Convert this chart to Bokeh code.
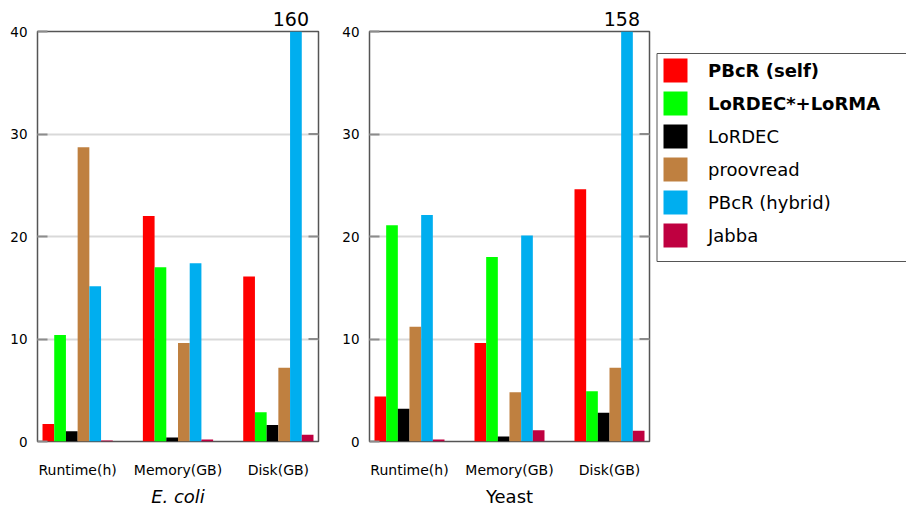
from bokeh.plotting import figure
from bokeh.models import (ColumnDataSource, FixedTicker, Range1d,
                          Legend, LegendItem, Title)
from bokeh.layouts import row
from bokeh.embed import file_html
from bokeh.resources import INLINE

# ---------------- data ----------------
metrics = ["Runtime(h)", "Memory(GB)", "Disk(GB)"]
series = ["PBcR (self)", "LoRDEC*+LoRMA", "LoRDEC", "proovread", "PBcR (hybrid)", "Jabba"]
bold_series = ["PBcR (self)", "LoRDEC*+LoRMA"]
colors = ["#ff0000", "#00ff00", "#000000", "#bf8040", "#00aeef", "#bf0040"]

ecoli_pbcr_self = [1.7, 22.0, 16.1]
ecoli_lordec_lorma = [10.4, 17.0, 2.85]
ecoli_lordec = [1.0, 0.4, 1.6]
ecoli_proovread = [28.7, 9.6, 7.2]
ecoli_pbcr_hybrid = [15.15, 17.4, 160]
ecoli_jabba = [0.1, 0.2, 0.65]

yeast_pbcr_self = [4.4, 9.6, 24.6]
yeast_lordec_lorma = [21.1, 18.0, 4.9]
yeast_lordec = [3.2, 0.5, 2.8]
yeast_proovread = [11.2, 4.8, 7.2]
yeast_pbcr_hybrid = [22.1, 20.1, 158]
yeast_jabba = [0.2, 1.1, 1.05]

y_ticks = [0, 10, 20, 30, 40]
y_max = 40

# ---------------- styling ----------------
FONT = "DejaVu Sans"
GROUP_W = 0.7
X_START, X_END = -0.4, 2.4
FRAME_W, FRAME_H = 281, 410
TOP, BOTTOM = 31, 68
H = TOP + FRAME_H + BOTTOM
TICK_LEN = 10
TICK_COLOR = "#8c8c8c"
FRAME_COLOR = "#555555"
VAL_FONT_PX = 19


def make_panel(title, italic, values_list, border_left, border_right):
    p = figure(width=border_left + FRAME_W + border_right, height=H,
               x_range=Range1d(X_START, X_END), y_range=Range1d(0, y_max),
               output_backend="svg", toolbar_location=None, title_location=None,
               min_border_left=border_left, min_border_right=border_right,
               min_border_top=TOP, min_border_bottom=BOTTOM)
    ppu = FRAME_W / (X_END - X_START)
    w = GROUP_W / len(series)
    for i, (vals, c) in enumerate(zip(values_list, colors)):
        xs = [k + (i - (len(series) - 1) / 2) * w for k in range(len(metrics))]
        src = ColumnDataSource(dict(x=xs, top=vals))
        p.vbar(x="x", top="top", bottom=0, width=w, source=src,
               fill_color=c, line_color=None)
        for k, v in enumerate(vals):
            if v > y_max:
                txt = f"{v:g}"
                half = 0.5 * len(txt) * 0.636 * VAL_FONT_PX
                off = (X_END - xs[k]) * ppu - half + 5
                p.add_layout(Title(text=txt, align="right", offset=off, standoff=12,
                                   vertical_align="bottom", text_font=FONT,
                                   text_font_size=f"{VAL_FONT_PX}px",
                                   text_font_style="normal", text_color="black"),
                             "above")

    # inner ticks on the right-hand frame edge
    inner = y_ticks[1:-1]
    tl = TICK_LEN / ppu
    p.segment(x0=[X_END] * len(inner), x1=[X_END - tl] * len(inner),
              y0=inner, y1=inner, line_color=TICK_COLOR, line_width=2)

    p.outline_line_color = FRAME_COLOR
    p.outline_line_width = 1.5
    p.background_fill_color = "white"
    p.border_fill_color = "white"

    xa = p.xaxis[0]
    xa.ticker = FixedTicker(ticks=list(range(len(metrics))))
    xa.major_label_overrides = {i: m for i, m in enumerate(metrics)}
    xa.major_tick_line_color = None
    xa.major_tick_in = 0
    xa.major_tick_out = 0
    xa.minor_tick_line_color = None
    xa.axis_line_color = None
    xa.major_label_standoff = 20
    xa.major_label_text_font = FONT
    xa.major_label_text_font_size = "14px"
    xa.major_label_text_color = "black"
    xa.axis_label = title
    xa.axis_label_text_font = FONT
    xa.axis_label_text_font_size = "18px"
    xa.axis_label_text_font_style = "italic" if italic else "normal"
    xa.axis_label_text_color = "black"
    xa.axis_label_standoff = 5

    ya = p.yaxis[0]
    ya.ticker = FixedTicker(ticks=y_ticks)
    ya.major_tick_in = TICK_LEN
    ya.major_tick_out = 0
    ya.major_tick_line_color = TICK_COLOR
    ya.major_tick_line_width = 2
    ya.minor_tick_line_color = None
    ya.axis_line_color = None
    ya.major_label_standoff = 10
    ya.major_label_text_font = FONT
    ya.major_label_text_font_size = "13.5px"
    ya.major_label_text_color = "black"

    p.xgrid.visible = False
    p.ygrid.ticker = FixedTicker(ticks=y_ticks)
    p.ygrid.grid_line_color = "#d9d9d9"
    p.ygrid.grid_line_width = 2
    return p


p1 = make_panel("E. coli", True,
                [ecoli_pbcr_self, ecoli_lordec_lorma, ecoli_lordec,
                 ecoli_proovread, ecoli_pbcr_hybrid, ecoli_jabba], 37, 21)
p2 = make_panel("Yeast", False,
                [yeast_pbcr_self, yeast_lordec_lorma, yeast_lordec,
                 yeast_proovread, yeast_pbcr_hybrid, yeast_jabba], 29, 6)

# ---------------- legend panel ----------------
W3 = 906 - p1.width - p2.width
p3 = figure(width=W3, height=H,
            x_range=Range1d(0, W3), y_range=Range1d(0, FRAME_H),
            output_backend="svg", toolbar_location=None, title_location=None,
            x_axis_location=None, y_axis_location=None,
            min_border_left=0, min_border_right=0,
            min_border_top=TOP, min_border_bottom=BOTTOM)
p3.grid.visible = False
p3.outline_line_color = None
p3.background_fill_color = "white"
p3.border_fill_color = "white"

# legend box (page px 53..261, counted here from the frame bottom); its right side
# lies beyond the window, so only three sides are drawn
LEG_BOX_TOP = TOP + FRAME_H - 53
LEG_BOX_BOTTOM = TOP + FRAME_H - 261
p3.line(x=[W3 + 5, 1.5, 1.5, W3 + 5],
        y=[LEG_BOX_TOP, LEG_BOX_TOP, LEG_BOX_BOTTOM, LEG_BOX_BOTTOM],
        line_color="#555555", line_width=1)

rends = []
for vals, c in zip([ecoli_pbcr_self, ecoli_lordec_lorma, ecoli_lordec,
                    ecoli_proovread, ecoli_pbcr_hybrid, ecoli_jabba], colors):
    r = p3.vbar(x=list(range(len(metrics))), top=vals, width=0.5,
                fill_color=c, line_color=None)
    r.visible = False
    rends.append(r)

ITEM_H, SPACING = 30, 3
LEG_X = 5
FIRST_ITEM_TOP = TOP + FRAME_H - 55   # from frame bottom
n_bold = len(bold_series)
n_norm = len(series) - n_bold
bold_h = n_bold * ITEM_H + (n_bold - 1) * SPACING
norm_top = FIRST_ITEM_TOP - bold_h - SPACING
norm_h = n_norm * ITEM_H + (n_norm - 1) * SPACING

common = dict(margin=0, padding=0, spacing=SPACING,
              glyph_width=30, glyph_height=ITEM_H, label_height=ITEM_H,
              label_standoff=18, label_text_font=FONT,
              label_text_font_size="18px", label_text_color="black",
              border_line_color=None, background_fill_alpha=0)

legend_bold = Legend(items=[LegendItem(label=s, renderers=[r])
                            for s, r in zip(series, rends) if s in bold_series],
                     location=(LEG_X, FIRST_ITEM_TOP - bold_h),
                     label_text_font_style="bold", **common)
legend_norm = Legend(items=[LegendItem(label=s, renderers=[r])
                            for s, r in zip(series, rends) if s not in bold_series],
                     location=(LEG_X, norm_top - norm_h),
                     label_text_font_style="normal", **common)
p3.add_layout(legend_bold, "center")
p3.add_layout(legend_norm, "center")

layout = row(p1, p2, p3)
open("out.html", "w").write(file_html(layout, INLINE))
